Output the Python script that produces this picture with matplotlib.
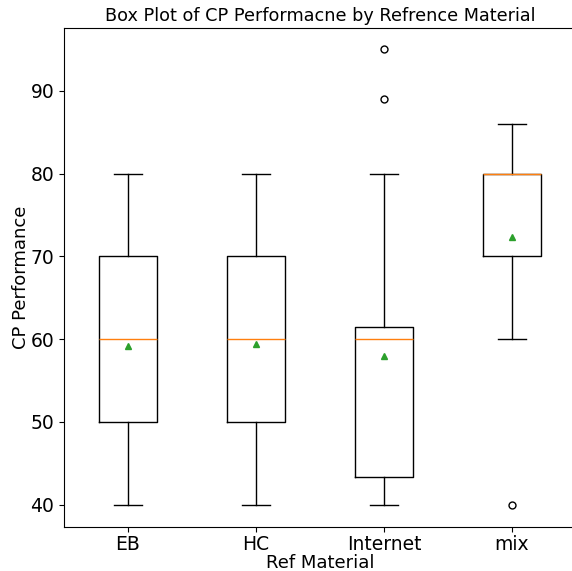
#!/usr/bin/env python3
"""Box plot of CP performance by reference material."""

import matplotlib

matplotlib.use("Agg")
import matplotlib.pyplot as plt

materials = ["EB", "HC", "Internet", "mix"]
whisker_low = [40, 40, 40, 60]
q1 = [50, 50, 43.3, 70]
medians = [60, 60, 60, 80]
q3 = [70, 70, 61.5, 80]
whisker_high = [80, 80, 80, 86]
means = [59.2, 59.4, 58.0, 72.4]
outliers = [[], [], [89, 95], [40]]


def main() -> int:
    stats = []
    for i, name in enumerate(materials):
        stats.append({
            "label": name,
            "whislo": whisker_low[i],
            "q1": q1[i],
            "med": medians[i],
            "q3": q3[i],
            "whishi": whisker_high[i],
            "mean": means[i],
            "fliers": outliers[i],
        })

    fig = plt.figure(figsize=(5.72, 5.71), dpi=100)
    ax = fig.add_axes([0.112, 0.077, 0.895, 0.874])
    ax.bxp(
        stats,
        showmeans=True,
        meanprops={"marker": "^", "markerfacecolor": "#2ca02c", "markeredgecolor": "#2ca02c", "markersize": 5},
        flierprops={"marker": "o", "markerfacecolor": "none", "markersize": 5},
    )
    ax.set_ylim(37.3, 97.6)
    ax.set_title("Box Plot of CP Performacne by Refrence Material", fontsize=12.7, pad=5)
    ax.set_xlabel("Ref Material", fontsize=13, labelpad=0)
    ax.set_ylabel("CP Performance", fontsize=13, labelpad=0.5)
    ax.tick_params(labelsize=13.5)
    ax.tick_params(axis="x", pad=2)
    fig.savefig("out.png")
    plt.close(fig)
    return 0


if __name__ == "__main__":
    raise SystemExit(main())
